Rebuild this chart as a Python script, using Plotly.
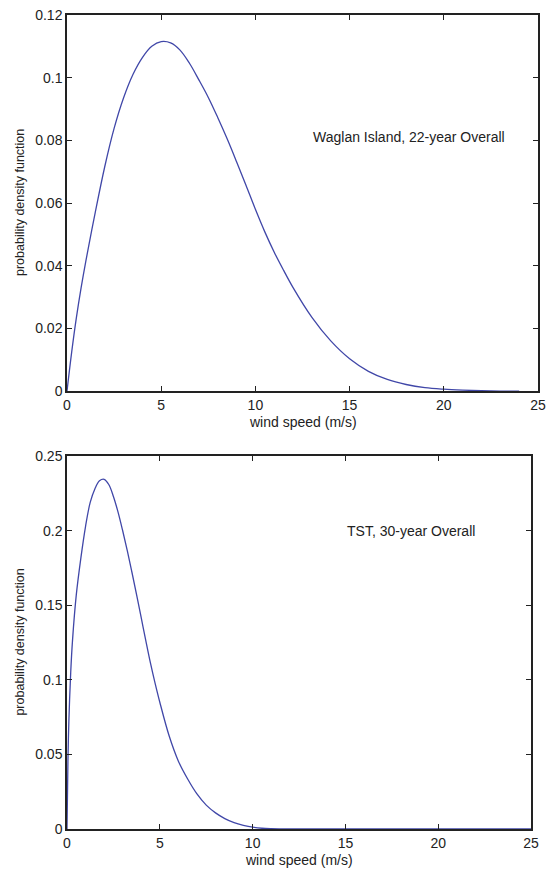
import plotly.graph_objects as go

# Waglan Island, 22-year overall
waglan_speed = [0, 0.25, 0.5, 0.75, 1.0, 1.5, 2.0, 2.5, 3.0, 3.5, 4.0, 4.5, 5.0, 5.5,
                6.0, 6.5, 7.0, 7.5, 8.0, 8.5, 9.0, 9.5, 10.0, 10.5, 11.0, 11.5, 12.0,
                13.0, 14.0, 15.0, 16.0, 17.0, 18.0, 19.0, 20.0, 21.0, 22.0, 23.0, 24.0]
waglan_pdf = [0, 0.0125, 0.0235, 0.033, 0.0415, 0.057, 0.0715, 0.0838, 0.0935, 0.101,
              0.1064, 0.11, 0.1115, 0.1111, 0.1088, 0.1046, 0.0993, 0.0937, 0.0873,
              0.0805, 0.0732, 0.0657, 0.058, 0.0508, 0.0443, 0.0385, 0.033, 0.0235,
              0.016, 0.0103, 0.0063, 0.0037, 0.0021, 0.0011, 0.0006, 0.0003, 0.0001,
              0.0, 0.0]

# TST, 30-year overall
tst_speed = [0, 0.05, 0.1, 0.2, 0.3, 0.5, 0.75, 1.0, 1.25, 1.5, 1.75, 2.0, 2.25, 2.5,
             2.75, 3.0, 3.25, 3.5, 3.75, 4.0, 4.25, 4.5, 4.75, 5.0, 5.5, 6.0, 6.5, 7.0,
             7.5, 8.0, 8.5, 9.0, 9.5, 10.0, 10.5, 11.0, 12.0, 25.0]
tst_pdf = [0, 0.045, 0.072, 0.105, 0.127, 0.157, 0.182, 0.203, 0.219, 0.228, 0.2335,
           0.2345, 0.231, 0.223, 0.2125, 0.2, 0.1865, 0.172, 0.157, 0.1415, 0.126,
           0.111, 0.0975, 0.085, 0.0625, 0.0455, 0.0335, 0.0235, 0.016, 0.0108, 0.007,
           0.0043, 0.0025, 0.0012, 0.0005, 0.0002, 0.0, 0.0]

x_ticks = [0, 5, 10, 15, 20, 25]
top_y_ticks = [0, 0.02, 0.04, 0.06, 0.08, 0.1, 0.12]
top_y_labels = ['0', '0.02', '0.04', '0.06', '0.08', '0.1', '0.12']
bottom_y_ticks = [0, 0.05, 0.1, 0.15, 0.2, 0.25]
bottom_y_labels = ['0', '0.05', '0.1', '0.15', '0.2', '0.25']

line_col = '#4047a8'
ink = '#222222'
font = dict(family='Liberation Sans, Arial, sans-serif', size=14, color=ink)
ytitle_font = dict(font, size=12.5)

fig = go.Figure()
fig.add_trace(go.Scatter(x=waglan_speed, y=waglan_pdf, mode='lines', line_shape='spline',
                         line=dict(color=line_col, width=1.3), xaxis='x', yaxis='y'))
fig.add_trace(go.Scatter(x=tst_speed, y=tst_pdf, mode='lines', line_shape='spline',
                         line=dict(color=line_col, width=1.3), xaxis='x2', yaxis='y2'))

axis_style = dict(
    showline=True, mirror='ticks', linecolor=ink, linewidth=1.5,
    ticks='inside', ticklen=5, tickcolor=ink, tickwidth=1,
    showgrid=False, zeroline=False, tickfont=font,
)

fig.update_layout(
    width=552, height=870,
    margin=dict(l=67, r=6, t=15, b=41),
    paper_bgcolor='white', plot_bgcolor='white',
    showlegend=False,
    font=font,
    xaxis=dict(axis_style, domain=[0, 1], range=[0, 25], tickvals=x_ticks, anchor='y'),
    yaxis=dict(axis_style, domain=[0.538, 1], range=[0, 0.12],
               tickvals=top_y_ticks, ticktext=top_y_labels, anchor='x'),
    xaxis2=dict(axis_style, domain=[0, 0.9854], range=[0, 25], tickvals=x_ticks, anchor='y2'),
    yaxis2=dict(axis_style, domain=[0, 0.458], range=[0, 0.25],
                tickvals=bottom_y_ticks, ticktext=bottom_y_labels, anchor='x2'),
    annotations=[
        dict(text='Waglan Island, 22-year Overall', x=12.95, y=0.081, xref='x', yref='y',
             xanchor='left', yanchor='middle', showarrow=False, font=font),
        dict(text='TST, 30-year Overall', x=15.0, y=0.2, xref='x2', yref='y2',
             xanchor='left', yanchor='middle', showarrow=False, font=font),
        dict(text='wind speed (m/s)', x=0.5, y=0.538, xref='paper', yref='paper',
             yshift=-31, xanchor='center', yanchor='middle', showarrow=False, font=font),
        dict(text='wind speed (m/s)', x=0.4927, y=0, xref='paper', yref='paper',
             yshift=-31, xanchor='center', yanchor='middle', showarrow=False, font=font),
        dict(text='probability density function', x=0, y=0.769, xref='paper', yref='paper',
             xshift=-47, textangle=-90, xanchor='center', yanchor='middle',
             showarrow=False, font=ytitle_font),
        dict(text='probability density function', x=0, y=0.229, xref='paper', yref='paper',
             xshift=-47, textangle=-90, xanchor='center', yanchor='middle',
             showarrow=False, font=ytitle_font),
    ],
)

# drop the default 8px body margin so the figure fills the window exactly
fig.write_html('out.html', config={'displayModeBar': False},
               post_script="document.body.style.margin='0';")
